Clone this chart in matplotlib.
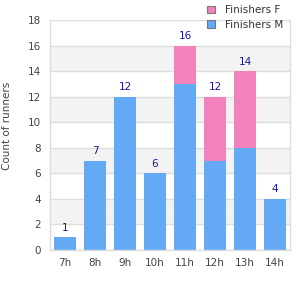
import matplotlib
matplotlib.use("Agg")
import matplotlib.pyplot as plt
import numpy as np
from matplotlib.patches import Patch

categories = ["7h", "8h", "9h", "10h", "11h", "12h", "13h", "14h"]
finishers_m = [1, 7, 12, 6, 13, 7, 8, 4]
finishers_f = [0, 0, 0, 0, 3, 5, 6, 0]
yticks = [0, 2, 4, 6, 8, 10, 12, 14, 16, 18]

blue = "#63a9f4"
pink = "#f282bb"
grid = "#dddddd"

fig = plt.figure(figsize=(3, 3), dpi=100)
ax = fig.add_axes([50/300, 50/300, 240/300, 230/300])

x = np.arange(len(categories))
ax.set_xlim(-0.5, len(categories) - 0.5)
ax.set_ylim(0, 18)

for i in range(0, 18, 2):
    if (i // 2) % 2 == 1:
        ax.axhspan(i, i + 2, color="#f3f3f3", zorder=0, lw=0)
for t in yticks:
    ax.axhline(t, color=grid, lw=1, zorder=1)

ax.bar(x, finishers_m, width=0.73, color=blue, zorder=2)
ax.bar(x, finishers_f, width=0.73, bottom=finishers_m, color=pink, zorder=2)

totals = [m + f for m, f in zip(finishers_m, finishers_f)]
for xi, t in zip(x, totals):
    ax.text(xi, t + 0.35, str(t), ha="center", va="bottom", fontsize=7.5, color="#1a1a8c")

ax.set_xticks(x)
ax.set_xticklabels(categories)
ax.set_yticks(yticks)
ax.tick_params(axis="both", length=0, labelsize=7.5, colors="#444444", pad=6.5)
ax.tick_params(axis="x", pad=6)
for s in ["top"]:
    ax.spines[s].set_visible(False)
for s in ["left", "bottom", "right"]:
    ax.spines[s].set_color(grid)
    ax.spines[s].set_linewidth(1)

fig.text(7/300, 1 - 126/300, "Count of runners", rotation=90, ha="center", va="center",
         fontsize=7.5, color="#444444")

handles = [Patch(facecolor=pink, edgecolor="#777777", lw=0.8, label="Finishers F"),
           Patch(facecolor=blue, edgecolor="#777777", lw=0.8, label="Finishers M")]
fig.legend(handles=handles, loc="upper left", bbox_to_anchor=(202/300, 1.0), frameon=False,
           fontsize=7.5, handlelength=0.75, handleheight=0.75, labelspacing=0.45,
           handletextpad=1.0, borderpad=0.0, labelcolor="#333333")

fig.savefig("out.png", dpi=100)
